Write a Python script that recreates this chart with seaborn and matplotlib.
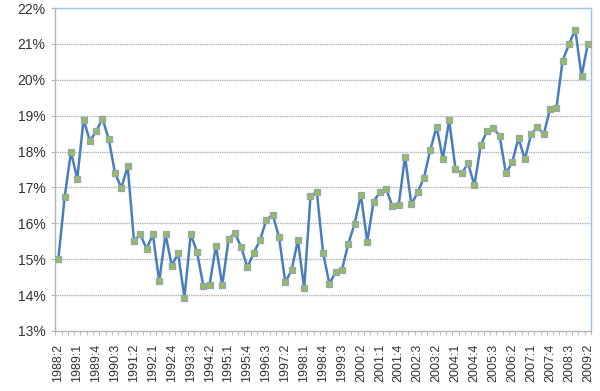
"""
Quarterly share chart, 1988:2 - 2009:2
"""

import numpy as np
import pandas as pd
import matplotlib
matplotlib.use('Agg')
import matplotlib.pyplot as plt
import seaborn as sns


# =============================================================================
# DATA
# =============================================================================

START_YEAR = 1988
START_QUARTER = 2

# Quarterly values in percent
VALUES = [
    15.00, 16.73, 17.99, 17.24, 18.89, 18.30, 18.56, 18.92, 18.34, 17.39,
    16.99, 17.59, 15.51, 15.69, 15.29, 15.69, 14.38, 15.69, 14.82, 15.17,
    13.93, 15.70, 15.20, 14.26, 14.29, 15.38, 14.27, 15.55, 15.73, 15.34,
    14.77, 15.18, 15.53, 16.10, 16.24, 15.63, 14.36, 14.69, 15.53, 14.19,
    16.76, 16.88, 15.18, 14.31, 14.65, 14.71, 15.43, 15.99, 16.79, 15.48,
    16.60, 16.87, 16.96, 16.47, 16.52, 17.86, 16.53, 16.86, 17.27, 18.04,
    18.69, 17.80, 18.87, 17.52, 17.40, 17.67, 17.06, 18.17, 18.57, 18.65,
    18.44, 17.39, 17.70, 18.38, 17.78, 18.48, 18.69, 18.48, 19.19, 19.20,
    20.53, 20.99, 21.40, 20.11, 21.00,
]

Y_TICKS = list(range(13, 23))


def quarter_labels(n):
    labels = []
    y, q = START_YEAR, START_QUARTER
    for _ in range(n):
        labels.append(f'{y}:{q}')
        q += 1
        if q > 4:
            q = 1
            y += 1
    return labels


# =============================================================================
# PLOT
# =============================================================================

def main(output_path='out.png'):
    labels = quarter_labels(len(VALUES))
    df = pd.DataFrame({'idx': np.arange(len(VALUES)), 'value': VALUES})

    sns.set_style('white')
    plt.rcParams['font.family'] = ['Liberation Sans', 'DejaVu Sans']

    fig = plt.figure(figsize=(6, 3.91), dpi=100)
    ax = fig.add_axes([0.092, 0.1535, 0.893, 0.826])

    # gridlines first
    for t in Y_TICKS[1:-1]:
        ax.axhline(t, color='#b4b4b4', lw=1.0, ls=(0, (1, 0.6)), zorder=0)

    sns.lineplot(data=df, x='idx', y='value', ax=ax, color='#4a7ebb',
                 lw=1.8, marker='s', markersize=4.8,
                 markerfacecolor='#9bbb59', markeredgecolor='#8ea6b8',
                 markeredgewidth=0.9, zorder=3)

    ax.set_xlim(-0.5, len(VALUES) - 0.5)
    ax.set_ylim(13, 22)
    ax.set_yticks(Y_TICKS)
    ax.set_yticklabels([f'{t}%' for t in Y_TICKS], fontsize=10, color='#333333')

    major = list(range(0, len(VALUES), 3))
    ax.set_xticks(major)
    ax.set_xticklabels([labels[i] for i in major], rotation=90,
                       fontsize=9, color='#333333')
    ax.set_xticks(np.arange(-0.5, len(VALUES), 1), minor=True)
    ax.tick_params(axis='x', which='major', length=0, pad=9)
    ax.tick_params(axis='x', which='minor', length=3, color='#b4b4b4',
                   direction='out', bottom=True)
    ax.tick_params(axis='y', length=3, color='#b4b4b4', left=True, pad=4)

    ax.set_xlabel('')
    ax.set_ylabel('')

    for side in ['left', 'bottom']:
        ax.spines[side].set_color('#b4b4b4')
        ax.spines[side].set_linewidth(1.0)
    for side in ['top', 'right']:
        ax.spines[side].set_color('#9dc3e6')
        ax.spines[side].set_linewidth(1.0)

    fig.savefig(output_path, dpi=100, facecolor='white')
    plt.close(fig)


if __name__ == '__main__':
    main()
